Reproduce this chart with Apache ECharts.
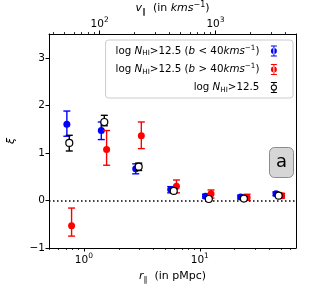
<!DOCTYPE html>
<html><head><meta charset="utf-8">
<script src="https://cdn.jsdelivr.net/npm/echarts@6/dist/echarts.min.js"></script>
<style>html,body{margin:0;padding:0;background:#fff}#c{width:314px;height:285px}</style>
</head><body><div id="c"></div>
<script>
// ---- data ----
const seriesNames = ['b<40', 'b>40', 'all'];

const blueR  = [0.713, 1.413, 2.80, 5.61, 11.2, 22.5, 45.4];
const blueXi = [1.60, 1.47, 0.665, 0.23, 0.09, 0.07, 0.14];
const blueLo = [1.35, 1.28, 0.56, 0.16, 0.05, 0.03, 0.10];
const blueHi = [1.88, 1.65, 0.77, 0.29, 0.13, 0.11, 0.18];

const redR  = [0.783, 1.57, 3.13, 6.29, 12.5, 25.6, 50.8];
const redXi = [-0.53, 1.07, 1.36, 0.30, 0.14, 0.06, 0.10];
const redLo = [-0.75, 0.74, 1.09, 0.16, 0.05, 0.00, 0.05];
const redHi = [-0.16, 1.47, 1.65, 0.43, 0.22, 0.13, 0.15];

const openR  = [0.748, 1.50, 2.97, 5.96, 11.96, 24.0, 47.9];
const openXi = [1.21, 1.65, 0.71, 0.20, 0.03, 0.04, 0.10];
const openLo = [1.04, 1.57, 0.63, 0.16, 0.00, 0.01, 0.07];
const openHi = [1.37, 1.79, 0.785, 0.24, 0.06, 0.07, 0.13];

// axis ticks
const xMajor = [1, 10];
const xMinor = [0.5, 0.6, 0.7, 0.8, 0.9, 2, 3, 4, 5, 6, 7, 8, 9, 20, 30, 40, 50, 60];
const vMajor = [100, 1000];
const vMinor = [40, 50, 60, 70, 80, 90, 200, 300, 400, 500, 600, 700, 800, 900, 2000, 3000, 4000];
const yTicks = [-1, 0, 1, 2, 3];

const H = 73.2;          // v = H * r  (top axis conversion)
const xMin = 0.5, xMax = 67.6;
const yMin = -1, yMax = 3.5;

// ---- chart ----
const FF = 'DejaVu Sans';
const chart = echarts.init(document.getElementById('c'), null, {renderer: 'canvas'});

function zip(r, xi) { return r.map((v, i) => [v, xi[i]]); }
function zipErr(r, lo, hi) { return r.map((v, i) => [v, lo[i], hi[i]]); }

function errSeries(data, color, z) {
  return {
    type: 'custom', xAxisIndex: 0, yAxisIndex: 0, z: z, silent: true,
    data: data,
    encode: {x: 0, y: [1, 2]},
    renderItem: function (params, api) {
      const x = api.value(0);
      const p1 = api.coord([x, api.value(1)]);
      const p2 = api.coord([x, api.value(2)]);
      const cw = 3.5;
      const st = {stroke: color, lineWidth: 1.4};
      return {
        type: 'group',
        children: [
          {type: 'line', shape: {x1: p1[0], y1: p1[1], x2: p2[0], y2: p2[1]}, style: st},
          {type: 'line', shape: {x1: p1[0] - cw, y1: p1[1], x2: p1[0] + cw, y2: p1[1]}, style: st},
          {type: 'line', shape: {x1: p2[0] - cw, y1: p2[1], x2: p2[0] + cw, y2: p2[1]}, style: st}
        ]
      };
    }
  };
}

const numRich = {
  b: {fontFamily: FF, fontSize: 10.5, color: '#000', lineHeight: 14, verticalAlign: 'bottom'},
  s: {fontFamily: FF, fontSize: 7.5, color: '#000', lineHeight: 9, verticalAlign: 'top'}
};
function powLabel(v) {
  const e = Math.round(Math.log10(v));
  return '{b|10}{s|' + e + '}';
}

const mathRich = {
  t: {fontFamily: FF, fontSize: 10.3, color: '#000', lineHeight: 14, verticalAlign: 'middle'},
  i: {fontFamily: FF, fontSize: 10.3, fontStyle: 'italic', color: '#000', lineHeight: 14, verticalAlign: 'middle'},
  sub: {fontFamily: FF, fontSize: 7.2, color: '#000', lineHeight: 14, verticalAlign: 'middle', padding: [5, 0, 0, 0]},
  sup: {fontFamily: FF, fontSize: 7.2, color: '#000', lineHeight: 14, verticalAlign: 'middle', padding: [0, 0, 6, 0]}
};
const legendText = [
  '{t|log }{i|N}{sub|HI}{t|>12.5 (}{i|b}{t| < 40}{i|kms}{sup|−1}{t|)}',
  '{t|log }{i|N}{sub|HI}{t|>12.5 (}{i|b}{t| > 40}{i|kms}{sup|−1}{t|)}',
  '{t|log }{i|N}{sub|HI}{t|>12.5}'
];

const iconFilled = 'path://M1,0H7V1H1Z M3.5,0H4.5V11H3.5Z M1,10H7V11H1Z M1,5.5A3,3 0 1,0 7,5.5A3,3 0 1,0 1,5.5Z';
const iconOpen = 'path://M1,0H7V1H1Z M3.5,0H4.5V2.6H3.5Z M3.5,8.4H4.5V11H3.5Z M1,10H7V11H1Z M0.9,5.5A3.1,3.1 0 1,0 7.1,5.5A3.1,3.1 0 1,0 0.9,5.5Z M1.9,5.5A2.1,2.1 0 1,1 6.1,5.5A2.1,2.1 0 1,1 1.9,5.5Z';

const axisNameRich = {
  t: {fontFamily: FF, fontSize: 11, color: '#000', lineHeight: 15, verticalAlign: 'middle'},
  i: {fontFamily: FF, fontSize: 11, fontStyle: 'italic', color: '#000', lineHeight: 15, verticalAlign: 'middle'},
  sub: {fontFamily: FF, fontSize: 8, color: '#000', lineHeight: 15, verticalAlign: 'middle', padding: [6, 0, 0, 0]},
  sup: {fontFamily: FF, fontSize: 8, color: '#000', lineHeight: 15, verticalAlign: 'middle', padding: [0, 0, 7, 0]}
};

const option = {
  animation: false,
  backgroundColor: '#fff',
  grid: {left: 49, right: 18, top: 34, bottom: 37, containLabel: false, outerBoundsMode: 'none'},
  xAxis: [
    { // bottom, data axis, major ticks
      type: 'log', logBase: 10, position: 'bottom', min: xMin, max: xMax,
      axisLine: {show: true, onZero: false, lineStyle: {color: '#000', width: 1}},
      axisTick: {show: true, inside: false, length: 3.5, customValues: xMajor, lineStyle: {color: '#000', width: 1}},
      axisLabel: {show: true, customValues: xMajor, margin: 4, formatter: powLabel, rich: numRich},
      splitLine: {show: false}, minorTick: {show: false},
      name: '{i|r}{sub|∥}{t|  (in pMpc)}', nameLocation: 'middle', nameGap: 21, nameMoveOverlap: false,
      nameTextStyle: {rich: axisNameRich}
    },
    { // bottom minor ticks
      type: 'log', logBase: 10, position: 'bottom', min: xMin, max: xMax,
      axisLine: {show: false, onZero: false},
      axisTick: {show: true, inside: false, length: 2, customValues: xMinor, lineStyle: {color: '#000', width: 0.8}},
      axisLabel: {show: false}, splitLine: {show: false}
    },
    { // top axis, velocity, major ticks
      type: 'log', logBase: 10, position: 'top', min: xMin * H, max: xMax * H,
      axisLine: {show: true, onZero: false, lineStyle: {color: '#000', width: 1}},
      axisTick: {show: true, inside: false, length: 3.5, customValues: vMajor, lineStyle: {color: '#000', width: 1}},
      axisLabel: {show: true, customValues: vMajor, margin: 4, formatter: powLabel, rich: numRich},
      splitLine: {show: false},
      name: '{i|v}{sub|∥}{t|  (in }{i|kms}{sup|−1}{t|)}', nameLocation: 'middle', nameGap: 18, nameMoveOverlap: false,
      nameTextStyle: {rich: axisNameRich}
    },
    { // top minor ticks
      type: 'log', logBase: 10, position: 'top', min: xMin * H, max: xMax * H,
      axisLine: {show: false, onZero: false},
      axisTick: {show: true, inside: false, length: 2, customValues: vMinor, lineStyle: {color: '#000', width: 0.8}},
      axisLabel: {show: false}, splitLine: {show: false}
    }
  ],
  yAxis: [
    {
      type: 'value', position: 'left', min: yMin, max: yMax, interval: 1,
      axisLine: {show: true, onZero: false, lineStyle: {color: '#000', width: 1}},
      axisTick: {show: true, inside: false, length: 3.5, customValues: yTicks, lineStyle: {color: '#000', width: 1}},
      axisLabel: {show: true, customValues: yTicks, margin: 4, fontFamily: FF, fontSize: 10.5, color: '#000',
        formatter: v => (v < 0 ? '\u2212' + (-v) : String(v))},
      splitLine: {show: false},
      name: 'ξ', nameLocation: 'middle', nameGap: 32, nameRotate: 90, nameMoveOverlap: false,
      nameTextStyle: {fontFamily: FF, fontSize: 11, color: '#000', fontStyle: 'italic'}
    },
    {
      type: 'value', position: 'right', min: yMin, max: yMax,
      axisLine: {show: true, onZero: false, lineStyle: {color: '#000', width: 1}},
      axisTick: {show: false}, axisLabel: {show: false}, splitLine: {show: false}
    }
  ],
  legend: {
    show: true, orient: 'vertical', align: 'right',
    right: 21, top: 40,
    padding: [4.5, 16, 4.5, 10],
    itemWidth: 7, itemHeight: 11, itemGap: 5.5,
    backgroundColor: 'rgba(255,255,255,0.8)', borderColor: '#cccccc', borderWidth: 1, borderRadius: 3,
    textStyle: {fontFamily: FF, fontSize: 10.3, color: '#000', rich: mathRich, padding: [0, 6, 0, 0]},
    formatter: function (name) { return legendText[seriesNames.indexOf(name)]; },
    data: [
      {name: seriesNames[0], icon: iconFilled, itemStyle: {color: '#0000ff', borderWidth: 0}},
      {name: seriesNames[1], icon: iconFilled, itemStyle: {color: '#ff0000', borderWidth: 0}},
      {name: seriesNames[2], icon: iconOpen, itemStyle: {color: '#000000', borderWidth: 0}}
    ]
  },
  graphic: [{
    type: 'group', left: 269, top: 147, z: 100,
    children: [
      {type: 'rect', shape: {x: 0.5, y: 0.5, width: 24, height: 30, r: 5},
        style: {fill: '#d6d6d6', stroke: '#8c8c8c', lineWidth: 1}},
      {type: 'text', x: 12.5, y: 15.5,
        style: {text: 'a', fontFamily: FF, fontSize: 18, fill: '#000', align: 'center', verticalAlign: 'middle'}}
    ]
  }],
  series: [
    { // zero line
      type: 'line', xAxisIndex: 0, yAxisIndex: 0, data: [], z: 1, silent: true,
      markLine: {
        silent: true, symbol: ['none', 'none'], label: {show: false},
        lineStyle: {color: '#000', width: 1.5, type: [1.5, 2.5]},
        data: [{yAxis: 0}]
      }
    },
    errSeries(zipErr(blueR, blueLo, blueHi), '#0000ff', 2),
    {
      name: seriesNames[0], type: 'scatter', xAxisIndex: 0, yAxisIndex: 0, z: 3,
      data: zip(blueR, blueXi), symbol: 'circle', symbolSize: 7,
      itemStyle: {color: '#0000ff', opacity: 1}
    },
    errSeries(zipErr(redR, redLo, redHi), '#ff0000', 4),
    {
      name: seriesNames[1], type: 'scatter', xAxisIndex: 0, yAxisIndex: 0, z: 5,
      data: zip(redR, redXi), symbol: 'circle', symbolSize: 7,
      itemStyle: {color: '#ff0000', opacity: 1}
    },
    errSeries(zipErr(openR, openLo, openHi), '#000000', 6),
    {
      name: seriesNames[2], type: 'scatter', xAxisIndex: 0, yAxisIndex: 0, z: 7,
      data: zip(openR, openXi), symbol: 'circle', symbolSize: 7,
      itemStyle: {color: '#ffffff', borderColor: '#000000', borderWidth: 1.2, opacity: 1}
    }
  ]
};
chart.setOption(option);
</script>
</body></html>
